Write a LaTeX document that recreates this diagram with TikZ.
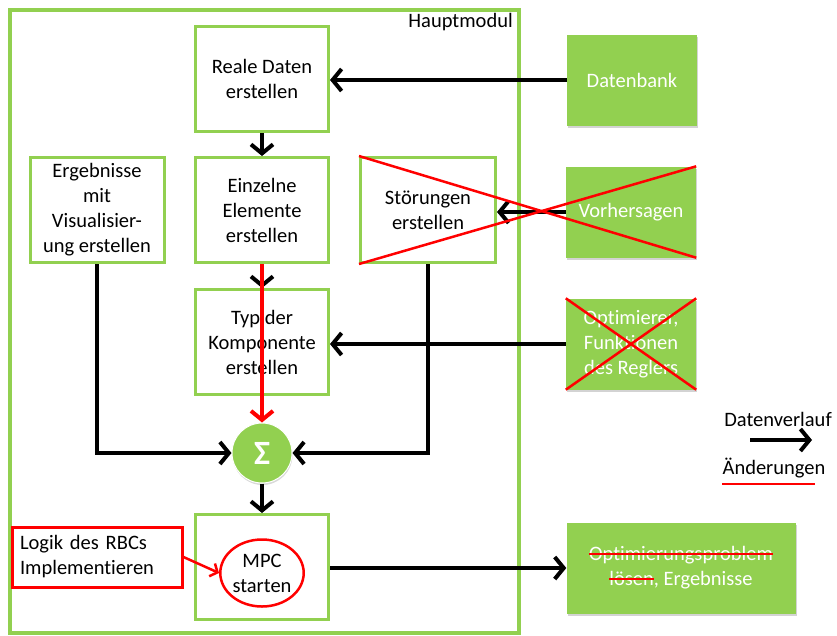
\documentclass[tikz,border=0pt]{standalone}
\usepackage{fontspec}
\setmainfont{Carlito}[Ligatures=NoCommon]
\usetikzlibrary{arrows.meta,shapes.geometric,shadows}
\definecolor{lgreen}{HTML}{92D050}
\definecolor{xred}{HTML}{FF0000}
\newcommand\mystrike[1]{\setbox0\hbox{#1}\copy0\llap{\textcolor{xred}{\rule[0.28em]{\wd0}{2.5pt}}}}
\tikzset{
  txt/.style={font=\fontsize{20.5}{25}\selectfont, align=center, inner sep=1pt},
  mainbox/.style={txt, draw=lgreen, line width=3pt, fill=white, minimum width=133pt, minimum height=105pt},
  extbox/.style={txt, fill=lgreen, text=white, minimum width=130pt, minimum height=91pt,
     drop shadow={shadow xshift=1pt, shadow yshift=-2pt, opacity=0.35}},
  flow/.style={line width=4pt, -{Straight Barb[length=9pt,width=22pt,line width=4pt]}},
  redflow/.style={xred, line width=4pt, -{Straight Barb[length=9pt,width=22pt,line width=4pt]}},
  xline/.style={xred, line width=2.5pt},
}
\begin{document}
\begin{tikzpicture}[x=1pt,y=-1pt]
\useasboundingbox (0,0) rectangle (837,635);
% main frame
\draw[lgreen, line width=4pt] (10,10) rectangle (519,633);
\node[txt, anchor=north east, inner sep=0pt] (haupt) at (513,13) {Hauptmodul};

% main boxes
\node[mainbox] (reale) at (262,79) {Reale Daten\\erstellen};
\node[mainbox] (einzel) at (262,210) {Einzelne\\Elemente\\erstellen};
\node[mainbox, minimum width=134pt] (ergeb) at (97,210) {Ergebnisse\\mit\\Visualisier-\\ung erstellen};
\node[mainbox, minimum width=135pt] (stoer) at (428,210) {Störungen\\erstellen};
\node[mainbox] (typ) at (262,342) {Typ der\\Komponente\\erstellen};
\node[mainbox] (mpcbox) at (262,567) {};
\node[circle, fill=lgreen, draw=white, line width=1pt, minimum size=60pt, inner sep=0pt,
      text=white, font=\fontsize{34}{34}\selectfont\bfseries,
      drop shadow={shadow xshift=0.5pt, shadow yshift=-2pt, opacity=0.3}] (sigma) at (262,453) {Σ};
\node[txt, ellipse, draw=xred, line width=2.5pt, fill=white, minimum width=80pt, minimum height=67pt, inner sep=0pt] (mpc) at (262,573) {MPC\\starten};
\node[txt, draw=xred, line width=3pt, fill=white, align=left, minimum width=170pt, minimum height=60pt, text width=154pt] (logik) at (97,557) {Logik des RBCs\\Implementieren};

% external boxes
\node[extbox] (datenbank) at (632,80) {Datenbank};
\node[extbox] (vorher) at (631,212) {Vorhersagen};
\node[extbox] (optim) at (631,344) {Optimierer,\\Funktionen\\des Reglers};
\node[extbox, minimum width=229pt] (optprob) at (681,568) {\mystrike{Optimierungsproblem}\\\mystrike{lösen}, Ergebnisse};

% connectors
\draw[flow] (datenbank.west) -- (reale.east |- datenbank.west);
\draw[flow] (reale.south) -- (einzel.north);
\draw[flow] (vorher.west) -- (stoer.east |- vorher.west);
\draw[flow] (einzel.south) -- (typ.north);
\draw[flow] (optim.west) -- (typ.east |- optim.west);
\draw[flow] (ergeb.south) |- (sigma.west);
\draw[flow] (stoer.south) |- (sigma.east);
\draw[flow] (sigma.south) -- (mpcbox.north);
\draw[flow] (mpcbox.east |- optprob.west) -- (optprob.west);
\draw[redflow] (einzel.south) -- (sigma.north);
\draw[xred, line width=2.5pt, -{Straight Barb[length=6pt,width=14pt,line width=2.5pt]}] (logik.east) -- (mpc.west);

% crosses
\draw[xline] (stoer.north west) -- (vorher.south east);
\draw[xline] (stoer.south west) -- (vorher.north east);
\draw[xline] (optim.north west) -- (optim.south east);
\draw[xline] (optim.south west) -- (optim.north east);

% legend
\node[txt, inner sep=0pt] (lgflow) at (778,419) {Datenverlauf};
\coordinate (lga) at (750,440);
\coordinate (lgb) at (812,440);
\draw[flow] (lga) -- (lgb);
\node[txt, inner sep=0pt] (lgchg) at (774,468) {Änderungen};
\coordinate (lgc) at (722,484);
\coordinate (lgd) at (815,484);
\draw[xline] (lgc) -- (lgd);
\end{tikzpicture}
\end{document}
